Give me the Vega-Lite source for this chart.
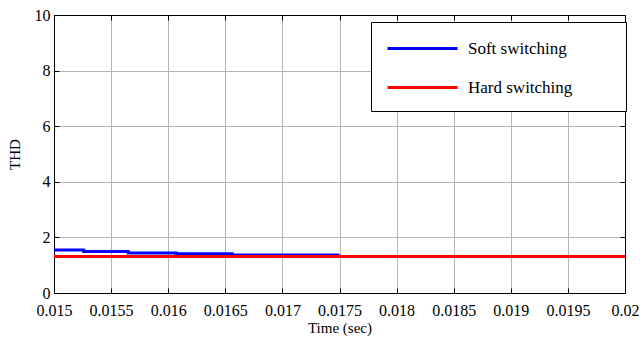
{
  "$schema": "https://vega.github.io/schema/vega-lite/v6.json",
  "width": 571,
  "height": 278,
  "autosize": {"type": "none"},
  "padding": {"left": 54, "top": 15, "right": 17, "bottom": 48},
  "background": "white",
  "config": {
    "font": "Liberation Serif",
    "style": {"guide-label": {"font": "Liberation Serif"}, "guide-title": {"font": "Liberation Serif"}},
    "view": {"stroke": "black", "strokeWidth": 1},
    "axis": {
      "domainColor": "black",
      "tickColor": "black",
      "labelColor": "black",
      "titleColor": "black",
      "labelFont": "Liberation Serif",
      "titleFont": "Liberation Serif",
      "labelFontSize": 16,
      "titleFontSize": 15,
      "titleFontWeight": "normal",
      "gridColor": "#b4b4b4",
      "gridWidth": 1,
      "tickSize": -5
    }
  },
  "data": {
    "values": [
      {"t": 0.015, "thd": 1.55, "series": "Soft switching"},
      {"t": 0.01526, "thd": 1.49, "series": "Soft switching"},
      {"t": 0.01565, "thd": 1.44, "series": "Soft switching"},
      {"t": 0.01607, "thd": 1.41, "series": "Soft switching"},
      {"t": 0.01656, "thd": 1.37, "series": "Soft switching"},
      {"t": 0.0175, "thd": 1.37, "series": "Soft switching"},
      {"t": 0.015, "thd": 1.31, "series": "Hard switching"},
      {"t": 0.02, "thd": 1.31, "series": "Hard switching"}
    ]
  },
  "encoding": {
    "x": {"field": "t", "type": "quantitative", "scale": {"domain": [0.015, 0.02], "nice": false, "zero": false}},
    "y": {"field": "thd", "type": "quantitative", "scale": {"domain": [0, 10], "nice": false}},
    "color": {
      "field": "series",
      "type": "nominal",
      "scale": {"domain": ["Soft switching", "Hard switching"], "range": ["#0000ff", "#ff0000"]},
      "legend": {
        "title": null,
        "orient": "none",
        "legendX": 317,
        "legendY": 7,
        "direction": "vertical",
        "symbolType": "M-3.5,0H3.5M18.2,0",
        "symbolSize": 400,
        "symbolOffset": 25,
        "symbolStrokeWidth": 3,
        "labelFont": "Liberation Serif",
        "labelFontSize": 17,
        "labelColor": "black",
        "labelOffset": 34,
        "rowPadding": 19,
        "padding": 15,
        "strokeColor": "black",
        "fillColor": "white",
        "labelLimit": 300
      }
    }
  },
  "layer": [
    {
      "transform": [{"filter": "datum.series === 'Soft switching'"}],
      "mark": {"type": "line", "interpolate": "step-after", "strokeWidth": 3},
      "encoding": {
        "x": {"field": "t", "type": "quantitative", "title": "Time (sec)",
          "axis": {"orient": "bottom", "values": [0.015, 0.0155, 0.016, 0.0165, 0.017, 0.0175, 0.018, 0.0185, 0.019, 0.0195, 0.02], "format": "~g", "labelFont": "Liberation Serif", "titleFont": "Liberation Serif", "labelPadding": 14, "titlePadding": 2, "labelFlush": false}},
        "y": {"field": "thd", "type": "quantitative", "title": "THD",
          "axis": {"orient": "left", "values": [0, 2, 4, 6, 8, 10], "labelFont": "Liberation Serif", "titleFont": "Liberation Serif", "labelPadding": 9, "titlePadding": 12}}
      }
    },
    {
      "transform": [{"filter": "datum.series === 'Hard switching'"}],
      "mark": {"type": "line", "interpolate": "step-after", "strokeWidth": 3},
      "encoding": {
        "x": {"field": "t", "type": "quantitative",
          "axis": {"orient": "top", "title": null, "labels": false, "grid": false, "values": [0.015, 0.0155, 0.016, 0.0165, 0.017, 0.0175, 0.018, 0.0185, 0.019, 0.0195, 0.02]}},
        "y": {"field": "thd", "type": "quantitative",
          "axis": {"orient": "right", "title": null, "labels": false, "grid": false, "values": [0, 2, 4, 6, 8, 10]}}
      }
    }
  ],
  "resolve": {"axis": {"x": "independent", "y": "independent"}}
}
